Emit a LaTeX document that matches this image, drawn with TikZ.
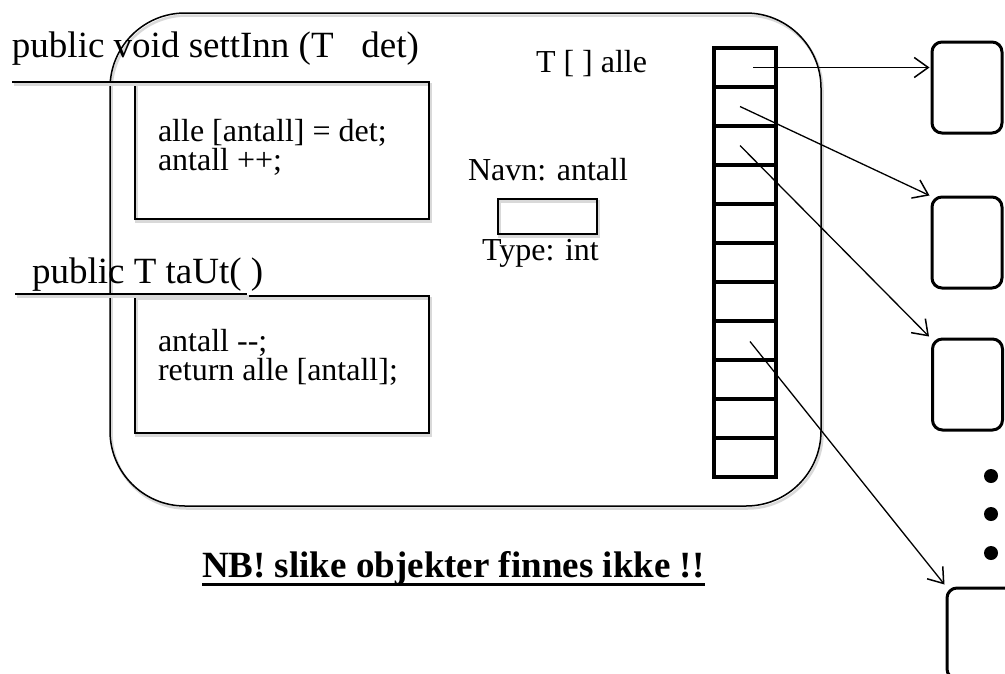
\documentclass[tikz,border=0pt]{standalone}
\usepackage{fontspec}
\setmainfont{Liberation Serif}
\usetikzlibrary{arrows.meta,calc}
\begin{document}
\begin{tikzpicture}[x=1pt,y=-1pt,
  shd/.style={preaction={draw=gray!30, line width=2.5pt, transform canvas={xshift=1.5pt, yshift=-2.5pt}}},
  txt/.style={inner sep=0pt, outer sep=0pt, anchor=base west},
  ttl/.style={txt, font=\fontsize{37}{37}\selectfont},
  cd/.style={txt, font=\fontsize{32}{29}\selectfont, align=left},
  lbl/.style={txt, font=\fontsize{32}{32}\selectfont},
  nbtxt/.style={txt, font=\fontsize{37}{37}\selectfont\bfseries},
  box/.style={draw, line width=1.5pt, inner sep=0pt, shd},
  cell/.style={draw, line width=3.5pt, minimum width=62pt, minimum height=39pt, inner sep=0pt},
  obj/.style={draw, line width=3pt, rounded corners=10pt, minimum width=70pt, minimum height=91pt, inner sep=0pt},
  dot/.style={circle, fill, minimum size=14pt, inner sep=0pt},
  arr/.style={line width=1.3pt, -{Straight Barb[length=14pt,width=20pt,line width=1.5pt]}},
  ul/.style={line width=2pt}
]
\useasboundingbox (0,0) rectangle (1005,673);
\clip (0,0) rectangle (1005,673);

% big object outline
\node[box, rounded corners=75pt, minimum width=711pt, minimum height=493pt] (objekt) at (465.5,259.5) {};

% method boxes
\node[box, minimum width=294pt, minimum height=137pt] (m1) at (282,150.5) {};
\node[box, minimum width=294pt, minimum height=137pt] (m2) at (282,364.5) {};

% signatures
\node[ttl] (sig1) at (12,57) {public void settInn (T\ \ \ det)};
\draw[ul, shd] (12,82) -- (245,82);
\node[ttl] (sig2) at (32,283) {public T taUt( )};
\draw[ul, shd] (15,294) -- (247,294);

% code
\node[cd] (code1) at (158,170) {alle [antall] = det;\\antall ++;};
\node[cd] (code2) at (158,380) {antall -{}-;\\return alle [antall];};

% variable antall
\node[lbl] (arrname) at (536,72) {T [ ] alle};
\node[lbl] (navn) at (468,180) {Navn: antall};
\node[box, minimum width=99pt, minimum height=35pt] (var) at (547.5,216.5) {};
\node[lbl] (type) at (482,260) {Type: int};

% array
\foreach \i in {1,...,11} {
  \node[cell] (c\i) at (745,{48+39*(\i-0.5)}) {};
}

% objects on the right
\node[obj] (o1) at (967,87.5) {};
\node[obj] (o2) at (967,242.5) {};
\node[obj] (o3) at (967.5,384.5) {};
\node[obj] (o4) at (982,633.5) {};

\node[dot] (d1) at (991,476) {};
\node[dot] (d2) at (991,514) {};
\node[dot] (d3) at (991,553) {};

% references
\draw[arr] ($(c1.center)+(8,0)$) -- ($(c1.center -| o1.west)+(-1,0)$);
\draw[arr] ($(c2.center)+(-5,0)$) -- ($(o2.north west)+(-1,0)$);
\draw[arr] ($(c3.center)+(-5,0)$) -- ($(o3.north west)+(-2,-1)$);
\draw[arr] ($(c8.center)+(5,1)$) -- ($(o4.north west)+(-1,-2)$);

% note
\node[nbtxt] (nb) at (202,577) {NB! slike objekter finnes ikke !!};
\draw[line width=3pt] ($(nb.base west)+(0,7)$) -- ($(nb.base east)+(0,7)$);
\end{tikzpicture}
\end{document}
